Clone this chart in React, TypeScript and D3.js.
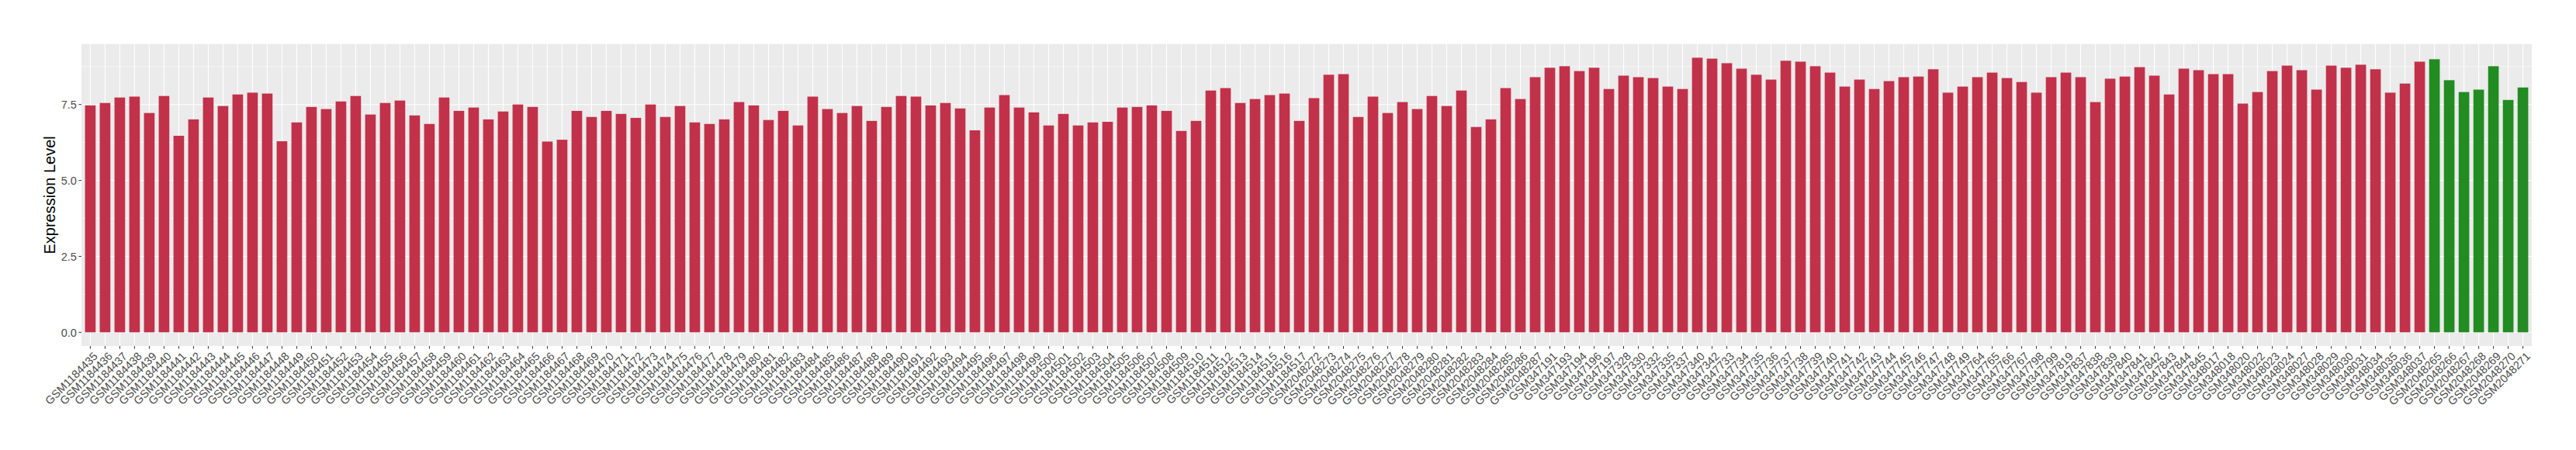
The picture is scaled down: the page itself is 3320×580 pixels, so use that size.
import React from "react";
import * as d3 from "d3";

const samples: string[] = [
  "GSM1184435","GSM1184436","GSM1184437","GSM1184438","GSM1184439","GSM1184440","GSM1184441","GSM1184442","GSM1184443","GSM1184444",
  "GSM1184445","GSM1184446","GSM1184447","GSM1184448","GSM1184449","GSM1184450","GSM1184451","GSM1184452","GSM1184453","GSM1184454",
  "GSM1184455","GSM1184456","GSM1184457","GSM1184458","GSM1184459","GSM1184460","GSM1184461","GSM1184462","GSM1184463","GSM1184464",
  "GSM1184465","GSM1184466","GSM1184467","GSM1184468","GSM1184469","GSM1184470","GSM1184471","GSM1184472","GSM1184473","GSM1184474",
  "GSM1184475","GSM1184476","GSM1184477","GSM1184478","GSM1184479","GSM1184480","GSM1184481","GSM1184482","GSM1184483","GSM1184484",
  "GSM1184485","GSM1184486","GSM1184487","GSM1184488","GSM1184489","GSM1184490","GSM1184491","GSM1184492","GSM1184493","GSM1184494",
  "GSM1184495","GSM1184496","GSM1184497","GSM1184498","GSM1184499","GSM1184500","GSM1184501","GSM1184502","GSM1184503","GSM1184504",
  "GSM1184505","GSM1184506","GSM1184507","GSM1184508","GSM1184509","GSM1184510","GSM1184511","GSM1184512","GSM1184513","GSM1184514",
  "GSM1184515","GSM1184516","GSM1184517",
  "GSM2048272","GSM2048273","GSM2048274","GSM2048275","GSM2048276","GSM2048277","GSM2048278","GSM2048279","GSM2048280","GSM2048281",
  "GSM2048282","GSM2048283","GSM2048284","GSM2048285","GSM2048286","GSM2048287",
  "GSM347191","GSM347193","GSM347194","GSM347196","GSM347197",
  "GSM347328","GSM347330","GSM347332","GSM347335","GSM347337","GSM347340","GSM347342",
  "GSM347733","GSM347734","GSM347735","GSM347736","GSM347737","GSM347738","GSM347739","GSM347740","GSM347741","GSM347742",
  "GSM347743","GSM347744","GSM347745","GSM347746","GSM347747","GSM347748","GSM347749",
  "GSM347764","GSM347765","GSM347766","GSM347767","GSM347798","GSM347799","GSM347819",
  "GSM347837","GSM347838","GSM347839","GSM347840","GSM347841","GSM347842","GSM347843","GSM347844","GSM347845",
  "GSM348017","GSM348018","GSM348020","GSM348022","GSM348023","GSM348024","GSM348027","GSM348028","GSM348029","GSM348030",
  "GSM348031","GSM348034","GSM348035","GSM348036","GSM348037",
  "GSM2048265","GSM2048266","GSM2048267","GSM2048268","GSM2048269","GSM2048270","GSM2048271",
];

const values: number[] = [
  7.47, 7.55, 7.73, 7.76, 7.22, 7.78, 6.47, 7.01, 7.73, 7.45,
  7.83, 7.89, 7.86, 6.29, 6.91, 7.42, 7.35, 7.60, 7.78, 7.17,
  7.55, 7.63, 7.14, 6.86, 7.73, 7.29, 7.40, 7.01, 7.27, 7.50,
  7.42, 6.28, 6.34, 7.29, 7.09, 7.29, 7.19, 7.06, 7.50, 7.09,
  7.45, 6.91, 6.86, 7.01, 7.58, 7.47, 6.99, 7.29, 6.81, 7.76,
  7.35, 7.22, 7.45, 6.96, 7.42, 7.78, 7.76, 7.47, 7.55, 7.37,
  6.65, 7.40, 7.81, 7.40, 7.24, 6.81, 7.19, 6.81, 6.91, 6.93,
  7.40, 7.42, 7.47, 7.29, 6.63, 6.96, 7.96, 8.04, 7.55, 7.68,
  7.81, 7.86, 6.96, 7.71, 8.48, 8.50, 7.09, 7.76, 7.22, 7.58,
  7.35, 7.78, 7.45, 7.96, 6.76, 7.01, 8.04, 7.68, 8.40, 8.71,
  8.76, 8.60, 8.71, 8.01, 8.45, 8.40, 8.37, 8.09, 8.01, 9.04,
  9.01, 8.86, 8.68, 8.48, 8.32, 8.94, 8.91, 8.76, 8.55, 8.09,
  8.32, 8.01, 8.27, 8.40, 8.42, 8.66, 7.89, 8.09, 8.40, 8.55,
  8.37, 8.24, 7.89, 8.40, 8.55, 8.40, 7.58, 8.35, 8.42, 8.73,
  8.45, 7.83, 8.68, 8.63, 8.50, 8.50, 7.53, 7.91, 8.60, 8.78,
  8.63, 7.99, 8.78, 8.71, 8.81, 8.66, 7.89, 8.19, 8.91,
  8.99, 8.30, 7.91, 7.99, 8.76, 7.65, 8.06,
];

const groups: string[] = samples.map((_, i) => (i >= 159 ? "control" : "case"));

const yTicks: number[] = [0, 2.5, 5, 7.5];
const yMinorTicks: number[] = [1.25, 3.75, 6.25, 8.75];
const yTitle = "Expression Level";

const colors: Record<string, string> = { case: "#C2314A", control: "#228B22" };

export default function App() {
  const W = 3320;
  const H = 580;
  const panel = { left: 105, right: 3263, top: 56.7, bottom: 446 };
  const n = samples.length;
  const step = (panel.right - panel.left) / (n - 1 + 1.2);

  const x = d3
    .scalePoint<string>()
    .domain(samples)
    .range([panel.left + 0.6 * step, panel.right - 0.6 * step]);

  const maxV = d3.max(values) as number;
  const y = d3
    .scaleLinear()
    .domain([-0.05 * maxV, maxV * 1.05])
    .range([panel.bottom, panel.top]);

  const bw = step * 0.72;
  const font = "'Liberation Sans', Arial, Helvetica, sans-serif";
  const tickLen = 3.6;

  return (
    <svg
      width={W}
      height={H}
      style={{ position: "absolute", left: 0, top: 0, background: "#fff" }}
    >
      <rect
        x={panel.left}
        y={panel.top}
        width={panel.right - panel.left}
        height={panel.bottom - panel.top}
        fill="#EBEBEB"
      />
      {yMinorTicks.map((t) => (
        <line
          key={"ym" + t}
          x1={panel.left}
          x2={panel.right}
          y1={y(t)}
          y2={y(t)}
          stroke="#fff"
          strokeWidth={0.6}
        />
      ))}
      {yTicks.map((t) => (
        <line
          key={"yg" + t}
          x1={panel.left}
          x2={panel.right}
          y1={y(t)}
          y2={y(t)}
          stroke="#fff"
          strokeWidth={1.1}
        />
      ))}
      {samples.map((s) => (
        <line
          key={"xg" + s}
          x1={x(s)}
          x2={x(s)}
          y1={panel.top}
          y2={panel.bottom}
          stroke="#fff"
          strokeWidth={1.1}
        />
      ))}
      {samples.map((s, i) => (
        <rect
          key={"b" + s}
          x={(x(s) as number) - bw / 2}
          y={y(values[i])}
          width={bw}
          height={y(0) - y(values[i])}
          fill={colors[groups[i]]}
        />
      ))}
      {yTicks.map((t) => (
        <g key={"yt" + t}>
          <line
            x1={panel.left - tickLen}
            x2={panel.left}
            y1={y(t)}
            y2={y(t)}
            stroke="#333"
            strokeWidth={1}
          />
          <text
            x={panel.left - tickLen - 2.5}
            y={y(t)}
            dy="0.36em"
            textAnchor="end"
            fontFamily={font}
            fontSize={14.5}
            fill="#4D4D4D"
          >
            {d3.format(".1f")(t)}
          </text>
        </g>
      ))}
      {samples.map((s) => {
        const cx = x(s) as number;
        return (
          <g key={"xt" + s}>
            <line
              x1={cx}
              x2={cx}
              y1={panel.bottom}
              y2={panel.bottom + tickLen}
              stroke="#333"
              strokeWidth={1}
            />
            <text
              transform={`translate(${cx + 3},${panel.bottom + tickLen + 3}) rotate(-45)`}
              dy="0.72em"
              textAnchor="end"
              fontFamily={font}
              fontSize={14.5}
              fill="#4D4D4D"
            >
              {s}
            </text>
          </g>
        );
      })}
      <text
        transform={`translate(${71},${(panel.top + panel.bottom) / 2}) rotate(-90)`}
        textAnchor="middle"
        fontFamily={font}
        fontSize={20}
        fill="#000"
      >
        {yTitle}
      </text>
    </svg>
  );
}
